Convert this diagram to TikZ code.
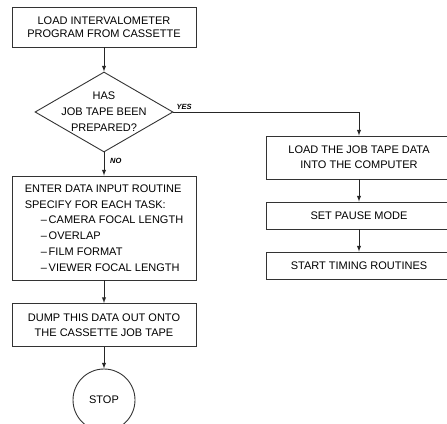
\documentclass[tikz,border=0pt]{standalone}
\usepackage{fontspec}
\setmainfont{Liberation Sans}
\usetikzlibrary{shapes.geometric}
\begin{document}
\begin{tikzpicture}[x=1pt,y=-1pt]
  %
  \tikzstyle{b} = [draw=black!80, line width=0.9pt, rectangle, inner sep=0pt, align=center, font=\fontsize{11}{15}\selectfont]
  \tikzstyle{d} = [draw=black!80, line width=0.9pt, diamond, inner sep=0pt, minimum width=138pt, minimum height=80pt]
  \tikzstyle{a} = [draw=black!85, line width=1pt, -latex]
  \tikzstyle{l} = [font=\fontsize{7.5}{8}\selectfont\bfseries\itshape, inner sep=1pt]
  \useasboundingbox (0,0) rectangle (447,423);
  \clip (0,0) rectangle (447,423);
  % left column
  \node[b, minimum width=184pt, minimum height=40pt, font=\fontsize{11}{13.5}\selectfont] (load) at (104,27) {LOAD INTERVALOMETER\\PROGRAM FROM CASSETTE};
  \node[d, label={[align=center, font=\fontsize{11}{16}\selectfont]center:{HAS\\JOB TAPE BEEN\\PREPARED?}}] (q) at (104,112) {};
  \node[b, minimum width=184pt, minimum height=104pt, align=left, font=\fontsize{11}{15.8}\selectfont] (enter) at (104,228)
    {ENTER DATA INPUT ROUTINE\\SPECIFY FOR EACH TASK:\\
     \hspace*{16pt}--\,CAMERA FOCAL LENGTH\\
     \hspace*{16pt}--\,OVERLAP\\
     \hspace*{16pt}--\,FILM FORMAT\\
     \hspace*{16pt}--\,VIEWER FOCAL LENGTH};
  \node[b, minimum width=184pt, minimum height=43pt] (dump) at (104,325) {DUMP THIS DATA OUT ONTO\\THE CASSETTE JOB TAPE};
  \node[b, circle, minimum size=62pt] (stop) at (104,400) {STOP};
  % right column (cut at the page edge)
  \node[b, minimum width=186pt, minimum height=43pt] (job) at (359,157.5) {LOAD THE JOB TAPE DATA\\INTO THE COMPUTER};
  \node[b, minimum width=186pt, minimum height=27pt] (pause) at (359,215.5) {SET PAUSE MODE};
  \node[b, minimum width=186pt, minimum height=27pt] (timing) at (359,265.5) {START TIMING ROUTINES};
  % arrows
  \draw[a] (load.south) -- (q.north);
  \draw[a] (q.south) -- (enter.north);
  \draw[a] (enter.south) -- (dump.north);
  \draw[a] (dump.south) -- (stop.north);
  \draw[a] (q.east) -| (job.north);
  \draw[a] (job.south) -- (pause.north);
  \draw[a] (pause.south) -- (timing.north);
  \node[l, anchor=south west] (yes) at ([xshift=2pt,yshift=1pt]q.east) {YES};
  \node[l, anchor=west] (no) at ([xshift=5pt,yshift=-8pt]q.south) {NO};
\end{tikzpicture}
\end{document}
